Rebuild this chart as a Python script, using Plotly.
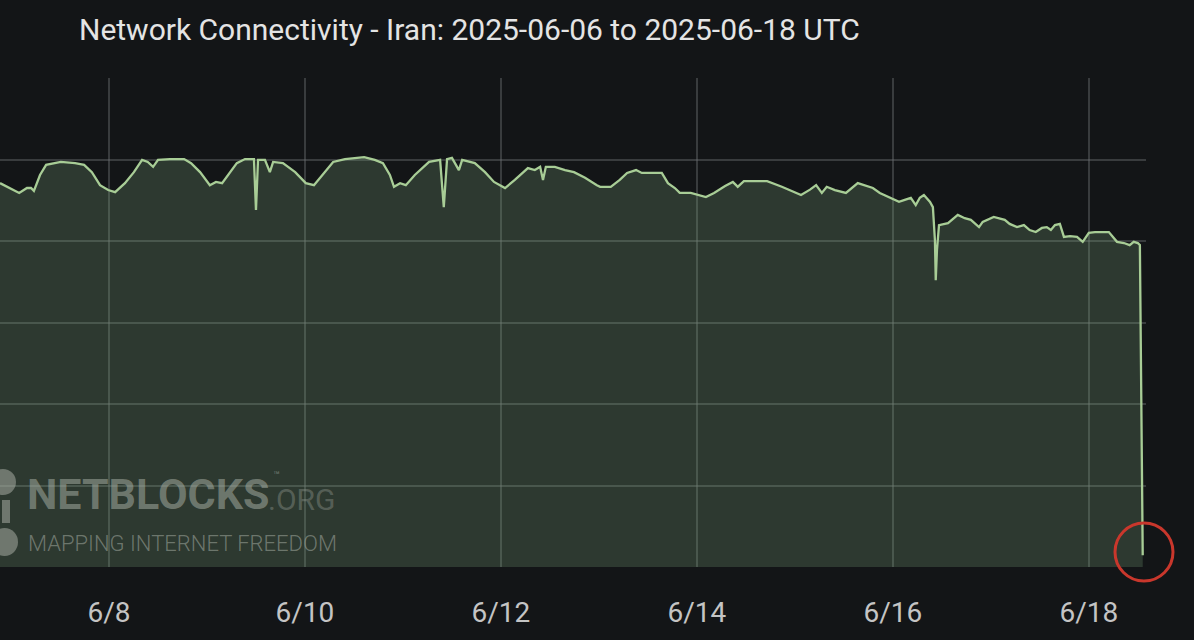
import pandas as pd
import plotly.graph_objects as go

# Hours since 2025-06-06 00:00 UTC and connectivity (% of ordinary levels)
hours = [21.3, 23.8, 26.0, 27.9, 28.9, 29.6, 31.1, 32.6, 36.2, 39.7, 41.9, 43.8, 45.8, 47.8,
         49.5, 51.9, 54.1, 56.1, 57.5, 58.8, 60.0, 62.9, 66.4, 68.1, 70.3, 72.7, 74.2, 75.7,
         77.6, 79.3, 81.3, 83.5, 84.0, 84.5, 86.2, 87.4, 88.2, 90.6, 93.6, 96.2, 98.2, 100.2,
         102.9, 105.8, 110.5, 113.1, 115.1, 116.8, 117.8, 119.3, 120.7, 122.9, 126.4, 129.1,
         130.0, 130.8, 132.0, 133.7, 134.5, 137.6, 140.1, 142.3, 143.8, 145.0, 147.4, 150.6,
         152.3, 153.6, 154.3, 155.0, 157.2, 159.7, 161.9, 164.6, 167.5, 168.3, 170.9, 173.1,
         174.9, 177.1, 178.5, 180.3, 183.4, 184.9, 186.6, 187.8, 190.5, 194.2, 196.2, 198.9,
         200.8, 201.6, 202.0, 203.5, 206.2, 209.2, 212.8, 215.3, 217.5, 219.7, 221.2, 222.6,
         223.8, 225.8, 228.5, 231.4, 233.4, 235.1, 236.8, 238.8, 241.5, 242.9, 244.4, 245.6,
         246.6, 247.6, 249.1, 249.8, 250.3, 250.5, 250.8, 251.3, 253.5, 255.9, 257.6, 259.1,
         261.1, 262.0, 264.7, 267.4, 268.6, 270.4, 272.1, 273.5, 275.0, 276.5, 277.7, 278.7,
         279.7, 280.9, 281.9, 283.4, 285.1, 286.5, 288.0, 289.5, 290.7, 292.9, 294.9, 296.6,
         298.0, 299.0, 300.0, 300.5, 301.2]
connectivity = [94.2, 93.0, 91.8, 93.0, 93.0, 92.3, 96.2, 98.7, 99.4, 99.1, 98.7, 96.9, 93.7, 92.5,
                92.0, 94.2, 96.9, 99.9, 99.4, 98.2, 99.9, 100.1, 100.1, 99.1, 96.9, 93.7, 94.5, 94.2,
                96.9, 99.1, 100.1, 100.1, 87.6, 99.9, 99.9, 96.9, 99.4, 99.1, 96.9, 94.2, 93.7, 96.2,
                99.4, 100.1, 100.6, 99.9, 99.1, 96.2, 93.3, 94.2, 93.7, 96.2, 99.4, 99.9,
                88.3, 100.1, 100.4, 97.4, 99.9, 99.1, 96.9, 94.5, 93.7, 93.0, 95.0, 97.9,
                97.4, 98.2, 95.0, 98.2, 98.2, 97.4, 96.9, 95.5, 93.7, 93.3, 93.3, 95.0,
                96.7, 97.4, 96.7, 96.7, 96.7, 94.2, 93.0, 91.8, 91.8, 90.8, 91.8, 93.5,
                94.5, 93.7, 93.3, 94.7, 94.7, 94.7, 93.3, 92.3, 91.3, 92.6, 93.7, 91.8,
                93.3, 92.5, 91.8, 94.2, 93.5, 93.0, 91.8, 90.8, 89.6, 90.1, 90.6, 88.8,
                90.6, 91.3, 89.6, 88.3, 80.2, 70.4, 77.8, 83.9, 84.4, 86.4, 85.6, 85.2,
                83.4, 84.7, 85.9, 85.2, 84.2, 83.4, 83.9, 82.7, 82.2, 83.2, 83.4, 82.7,
                83.9, 84.2, 81.0, 81.2, 81.0, 79.8, 82.0, 82.2, 82.2, 82.2, 79.8, 79.5,
                79.0, 79.8, 79.5, 79.0, 2.9]

tick_dates = ["2025-06-08", "2025-06-10", "2025-06-12", "2025-06-14", "2025-06-16", "2025-06-18"]
tick_labels = ["6/8", "6/10", "6/12", "6/14", "6/16", "6/18"]
title_text = "Network Connectivity - Iran: 2025-06-06 to 2025-06-18 UTC"

start = pd.Timestamp("2025-06-06 00:00")
times = [start + pd.Timedelta(hours=h) for h in hours]

BG = "#131517"
fig = go.Figure()
fig.add_trace(go.Scatter(
    x=times, y=connectivity, mode="lines",
    line=dict(color="rgb(168,205,150)", width=2.3),
    fill="tozeroy", fillcolor="rgba(123,169,122,0.25)",
    hoverinfo="skip", showlegend=False,
))

grid = "rgba(110,114,116,0.42)"
fig.update_layout(
    width=1194, height=640,
    paper_bgcolor=BG, plot_bgcolor=BG,
    margin=dict(l=0, r=48, t=78, b=73),
    title=dict(text=title_text, x=79 / 1194, xanchor="left", xref="container",
               y=1 - 29 / 640, yanchor="middle", yref="container",
               font=dict(family="Roboto", size=30, color="#e4e4e4")),
    xaxis=dict(range=[start + pd.Timedelta(hours=21.3), start + pd.Timedelta(hours=302.0)],
               tickvals=tick_dates, ticktext=tick_labels,
               showgrid=True, gridcolor=grid, gridwidth=1.5,
               zeroline=False, showline=False, ticks="",
               ticklabelstandoff=26,
               tickfont=dict(family="Roboto", size=28, color="#c4c4c4")),
    yaxis=dict(range=[0, 120], dtick=20, showticklabels=False,
               showgrid=True, gridcolor=grid, gridwidth=1.5,
               zeroline=False, showline=False),
)

def px(xp):
    return xp / 1146

def py(yp):
    return (567 - yp) / 489

# NetBlocks watermark
wm = "rgba(165,172,162,0.55)"
fig.add_annotation(text="<b>NETBLOCKS</b>", xref="paper", yref="paper", x=px(25), y=py(494),
                   xanchor="left", yanchor="middle", showarrow=False,
                   font=dict(family="Roboto", size=43, color=wm))
fig.add_annotation(text="™", xref="paper", yref="paper", x=px(271), y=py(475),
                   xanchor="left", yanchor="middle", showarrow=False,
                   font=dict(family="Roboto", size=11, color=wm))
fig.add_annotation(text=".ORG", xref="paper", yref="paper", x=px(266), y=py(499),
                   xanchor="left", yanchor="middle", showarrow=False,
                   font=dict(family="Roboto", size=30, color="rgba(150,156,148,0.4)"))
fig.add_annotation(text="MAPPING INTERNET FREEDOM", xref="paper", yref="paper", x=px(26), y=py(543),
                   xanchor="left", yanchor="middle", showarrow=False,
                   font=dict(family="Roboto", size=22, weight=300, color=wm))
fig.add_shape(type="circle", xref="paper", yref="paper", x0=px(-10), x1=px(16), y0=py(495), y1=py(469),
              fillcolor=wm, line=dict(width=0))
fig.add_shape(type="rect", xref="paper", yref="paper", x0=px(2), x1=px(10), y0=py(523), y1=py(500),
              fillcolor=wm, line=dict(width=0))
fig.add_shape(type="circle", xref="paper", yref="paper", x0=px(-9), x1=px(18), y0=py(556), y1=py(528),
              fillcolor=wm, line=dict(width=0))

# Red highlight circle around the final drop (paper-referenced so it is not clipped)
fig.add_shape(type="circle", xref="paper", yref="paper",
              x0=px(1115), x1=px(1173), y0=py(581), y1=py(523),
              line=dict(color="#c9372c", width=3))

fig.write_html("out.html", config={"displayModeBar": False},
               post_script="document.body.style.margin='0';")
